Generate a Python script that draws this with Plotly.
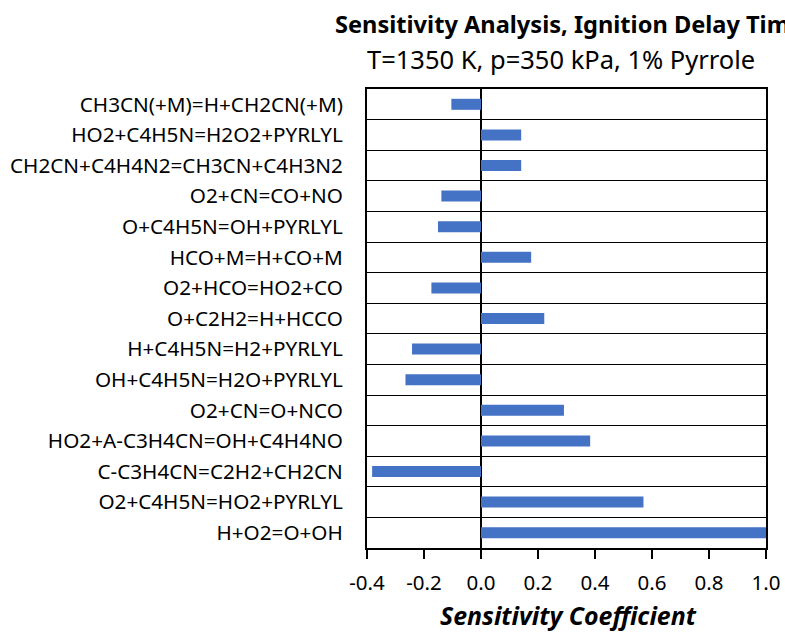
import plotly.graph_objects as go

reactions = [
    "CH3CN(+M)=H+CH2CN(+M)",
    "HO2+C4H5N=H2O2+PYRLYL",
    "CH2CN+C4H4N2=CH3CN+C4H3N2",
    "O2+CN=CO+NO",
    "O+C4H5N=OH+PYRLYL",
    "HCO+M=H+CO+M",
    "O2+HCO=HO2+CO",
    "O+C2H2=H+HCCO",
    "H+C4H5N=H2+PYRLYL",
    "OH+C4H5N=H2O+PYRLYL",
    "O2+CN=O+NCO",
    "HO2+A-C3H4CN=OH+C4H4NO",
    "C-C3H4CN=C2H2+CH2CN",
    "O2+C4H5N=HO2+PYRLYL",
    "H+O2=O+OH",
]
sensitivity = [-0.104, 0.141, 0.141, -0.139, -0.151, 0.176, -0.174, 0.222,
               -0.242, -0.265, 0.291, 0.383, -0.382, 0.570, 1.0]
x_tick_values = [-0.4, -0.2, 0.0, 0.2, 0.4, 0.6, 0.8, 1.0]
x_tick_labels = ["-0.4", "-0.2", "0.0", "0.2", "0.4", "0.6", "0.8", "1.0"]

FONT = "Noto Sans"
fig = go.Figure()
fig.add_trace(go.Bar(
    x=sensitivity, y=reactions, orientation="h",
    marker=dict(color="#4472C4", line=dict(width=0)),
    width=0.36, hoverinfo="x+y",
))

fig.update_layout(
    width=785, height=632,
    margin=dict(l=367, r=19, t=89, b=84, autoexpand=False),
    paper_bgcolor="white", plot_bgcolor="white",
    showlegend=False,
    font=dict(family=FONT, size=20, color="black"),
    xaxis=dict(
        range=[-0.4, 1.0], tickmode="array", tickvals=x_tick_values,
        ticktext=x_tick_labels, showgrid=False, automargin=False,
        zeroline=True, zerolinecolor="black", zerolinewidth=1.5,
        showline=True, mirror=True, linecolor="black", linewidth=2,
        ticks="outside", ticklen=9, tickwidth=1.5, tickcolor="black",
        ticklabelstandoff=6,
        tickfont=dict(family=FONT, size=20.5, color="black"),
    ),
    xaxis2=dict(
        overlaying="x", matches="x", range=[-0.4, 1.0], side="bottom",
        tickmode="array", tickvals=x_tick_values, showticklabels=False,
        showgrid=False, zeroline=False, showline=False, automargin=False,
        ticks="inside", ticklen=5, tickwidth=1.5, tickcolor="black",
    ),
    yaxis=dict(
        categoryorder="array", categoryarray=reactions, autorange="reversed",
        tickson="boundaries", showgrid=True, gridcolor="black", gridwidth=1,
        showline=True, mirror=True, linecolor="black", linewidth=2,
        ticks="", ticklabelstandoff=18, automargin=False,
        tickfont=dict(family=FONT, size=20.7, color="black"),
    ),
    annotations=[
        dict(text="<b>Sensitivity Analysis, Ignition Delay Time</b>",
             xref="paper", yref="paper", x=-0.0852, y=1.1416,
             xanchor="left", yanchor="middle", showarrow=False,
             font=dict(family=FONT, size=23.6, color="black")),
        dict(text="T=1350 K, p=350 kPa, 1% Pyrrole",
             xref="paper", yref="paper", x=0.486, y=1.0643,
             xanchor="center", yanchor="middle", showarrow=False,
             font=dict(family=FONT, size=25.5, color="black")),
        dict(text="<b><i>Sensitivity Coefficient</i></b>",
             xref="paper", yref="paper", x=0.506, y=-0.146,
             xanchor="center", yanchor="middle", showarrow=False,
             font=dict(family=FONT, size=24.9, color="black")),
    ],
)

# remove the page's default body margin so the figure fills the window exactly
fig.write_html(
    "out.html",
    config={"displayModeBar": False},
    post_script="document.body.style.margin='0';document.body.style.overflow='hidden';",
)
